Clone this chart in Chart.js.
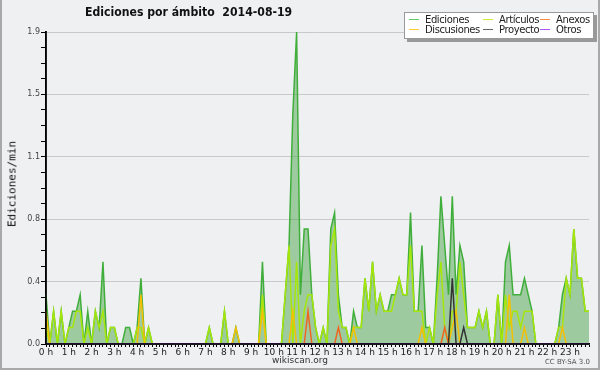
<!DOCTYPE html>
<html>
<head>
<meta charset="utf-8">
<script src="https://cdn.jsdelivr.net/npm/chart.js@4.4.1/dist/chart.umd.min.js"></script>
<style>
  body { margin: 0; background: #fff; }
  #wrap { position: relative; width: 600px; height: 370px; background: #eff0f2; overflow: hidden; font-family: "DejaVu Sans", sans-serif; }
  #chart { position: absolute; left: 0; top: 0; }
  #frame { position: absolute; left: 0; top: 0; width: 600px; height: 370px; box-sizing: border-box; border: 2px solid #a9a9a9; border-top: none; pointer-events: none; }
  #title { position: absolute; left: 85px; top: 4px; font-weight: bold; font-size: 13px; color: #111; white-space: pre; transform: scaleX(0.84); transform-origin: left top; }
  #ylabel { position: absolute; left: 12px; top: 184px; transform: translate(-50%, -50%) rotate(-90deg); font-family: "DejaVu Sans Mono", monospace; font-size: 11px; color: #111; white-space: nowrap; }
  #legend { position: absolute; left: 404px; top: 12px; width: 188px; height: 25px; background: #fff; border: 1px solid #999; box-shadow: 3px 3px 0 #999; }
  .item { position: absolute; font-size: 10px; letter-spacing: -0.4px; color: #222; white-space: nowrap; line-height: 10px; }
  .item i { display: inline-block; width: 10px; height: 1px; vertical-align: middle; margin-right: 6px; position: relative; top: -1px; }
  #site { position: absolute; left: 0; width: 600px; top: 355px; text-align: center; font-size: 9px; color: #333; }
  #lic { position: absolute; right: 10px; top: 358px; font-size: 7px; color: #555; }
</style>
</head>
<body>
<div id="wrap">
  <canvas id="chart" width="600" height="370"></canvas>
  <div id="title">Ediciones por ámbito  2014-08-19</div>
  <div id="ylabel">Ediciones/min</div>
  <div id="legend"></div>
  <div id="site">wikiscan.org</div>
  <div id="lic">CC BY-SA 3.0</div>
  <div id="frame"></div>
</div>
<script>
// one slot every 10 minutes, 0:00 .. 23:50
const slots = [];
for (let h = 0; h < 24; h++) {
  for (let m = 0; m < 60; m += 10) slots.push(h + ":" + String(m).padStart(2, "0"));
}

const hourLabels = ["0 h", "1 h", "2 h", "3 h", "4 h", "5 h", "6 h", "7 h", "8 h", "9 h", "10 h", "11 h",
  "12 h", "13 h", "14 h", "15 h", "16 h", "17 h", "18 h", "19 h", "20 h", "21 h", "22 h", "23 h"];

const yTicks = [0, 0.095, 0.19, 0.285, 0.38, 0.475, 0.57, 0.665, 0.76, 0.855, 0.95,
  1.045, 1.14, 1.235, 1.33, 1.425, 1.52, 1.615, 1.71, 1.805, 1.9];

// edits per minute, one row per hour
const ediciones = [
  0.3, 0, 0.2, 0, 0.2, 0,
  0.1, 0.2, 0.2, 0.3, 0, 0.2,
  0, 0.2, 0.1, 0.5, 0, 0.1,
  0.1, 0, 0, 0.1, 0.1, 0,
  0.1, 0.4, 0, 0.1, 0, 0,
  0, 0, 0, 0, 0, 0,
  0, 0, 0, 0, 0, 0,
  0, 0.1, 0, 0, 0, 0.2,
  0, 0, 0.1, 0, 0, 0,
  0, 0, 0, 0.5, 0, 0,
  0, 0, 0, 0.3, 0.6, 1.4,
  1.9, 0.3, 0.7, 0.7, 0.3, 0.1,
  0, 0.1, 0, 0.7, 0.8, 0.3,
  0.1, 0.1, 0, 0.2, 0.1, 0.1,
  0.4, 0.2, 0.5, 0.2, 0.3, 0.2,
  0.2, 0.3, 0.3, 0.4, 0.3, 0.3,
  0.8, 0.2, 0.2, 0.6, 0.1, 0.1,
  0, 0.4, 0.9, 0.6, 0.3, 0.9,
  0.3, 0.6, 0.5, 0.1, 0.1, 0.1,
  0.2, 0.1, 0.2, 0, 0, 0.3,
  0, 0.5, 0.6, 0.3, 0.3, 0.3,
  0.4, 0.3, 0.2, 0, 0, 0,
  0, 0, 0, 0.1, 0.3, 0.4,
  0.3, 0.7, 0.4, 0.4, 0.2, 0.2
];

const articulos = [
  0.1, 0, 0.2, 0, 0.2, 0,
  0.1, 0.1, 0.2, 0.2, 0, 0.1,
  0, 0.2, 0.1, 0.2, 0, 0.1,
  0.1, 0, 0, 0, 0, 0,
  0.1, 0.1, 0, 0.1, 0, 0,
  0, 0, 0, 0, 0, 0,
  0, 0, 0, 0, 0, 0,
  0, 0.1, 0, 0, 0, 0.2,
  0, 0, 0, 0, 0, 0,
  0, 0, 0, 0.3, 0, 0,
  0, 0, 0, 0.3, 0.6, 0,
  0.5, 0, 0.2, 0.3, 0.3, 0.1,
  0, 0.1, 0, 0.6, 0.7, 0.2,
  0.1, 0.1, 0, 0.1, 0.1, 0.1,
  0.4, 0.2, 0.5, 0.2, 0.3, 0.2,
  0.2, 0.2, 0.3, 0.4, 0.3, 0.3,
  0.6, 0.2, 0.2, 0.2, 0, 0.1,
  0, 0.3, 0.5, 0.1, 0, 0.2,
  0.2, 0.5, 0.3, 0.1, 0.1, 0.1,
  0.2, 0.1, 0.2, 0, 0, 0.3,
  0, 0.3, 0.1, 0.2, 0.2, 0.1,
  0.2, 0.2, 0.2, 0, 0, 0,
  0, 0, 0, 0.1, 0.1, 0.4,
  0.3, 0.7, 0.4, 0.4, 0.2, 0.2
];

const anexos = [
  0, 0, 0, 0, 0, 0,  0, 0, 0, 0, 0, 0,  0, 0, 0, 0, 0, 0,  0, 0, 0, 0, 0, 0,
  0, 0, 0, 0, 0, 0,  0, 0, 0, 0, 0, 0,  0, 0, 0, 0, 0, 0,  0, 0, 0, 0, 0, 0,
  0, 0, 0, 0, 0, 0,  0, 0, 0, 0, 0, 0,  0, 0, 0, 0, 0, 0,  0, 0, 0, 0.2, 0, 0,
  0, 0, 0, 0, 0, 0.1,  0, 0, 0, 0, 0, 0,  0, 0, 0, 0, 0, 0,  0, 0, 0, 0, 0, 0,
  0, 0, 0, 0, 0, 0,  0, 0, 0, 0.1, 0, 0,  0, 0, 0, 0, 0, 0,  0, 0, 0, 0, 0, 0,
  0, 0, 0, 0, 0, 0,  0, 0, 0, 0, 0, 0,  0, 0, 0, 0, 0, 0,  0, 0, 0, 0, 0, 0
];

const discusiones = [
  0.2, 0, 0, 0, 0, 0,  0, 0, 0, 0, 0, 0,  0, 0, 0, 0, 0, 0,  0, 0, 0, 0, 0, 0,
  0, 0.3, 0, 0, 0, 0,  0, 0, 0, 0, 0, 0,  0, 0, 0, 0, 0, 0,  0, 0, 0, 0, 0, 0,
  0, 0, 0.1, 0, 0, 0,  0, 0, 0, 0.2, 0, 0,  0, 0, 0, 0, 0, 0.2,  0, 0, 0, 0, 0, 0,
  0, 0, 0, 0, 0, 0,  0, 0, 0, 0.1, 0, 0,  0, 0, 0, 0, 0, 0,  0, 0, 0, 0, 0, 0,
  0, 0, 0, 0.1, 0, 0,  0, 0, 0, 0, 0, 0.1,  0.2, 0, 0, 0, 0, 0,  0, 0, 0, 0, 0, 0,
  0, 0, 0.3, 0, 0, 0,  0.1, 0, 0, 0, 0, 0,  0, 0, 0, 0, 0.1, 0,  0, 0, 0, 0, 0, 0
];

const proyecto = [
  0, 0, 0, 0, 0, 0,  0, 0, 0, 0, 0, 0,  0, 0, 0, 0, 0, 0,  0, 0, 0, 0, 0, 0,
  0, 0, 0, 0, 0, 0,  0, 0, 0, 0, 0, 0,  0, 0, 0, 0, 0, 0,  0, 0, 0, 0, 0, 0,
  0, 0, 0, 0, 0, 0,  0, 0, 0, 0, 0, 0,  0, 0, 0, 0, 0, 0,  0, 0, 0, 0, 0, 0,
  0, 0, 0, 0, 0, 0,  0, 0, 0, 0, 0, 0,  0, 0, 0, 0, 0, 0,  0, 0, 0, 0, 0, 0,
  0, 0, 0, 0, 0, 0,  0, 0, 0, 0, 0, 0.4,  0, 0, 0.1, 0, 0, 0,  0, 0, 0, 0, 0, 0,
  0, 0, 0, 0, 0, 0,  0, 0, 0, 0, 0, 0,  0, 0, 0, 0, 0, 0,  0, 0, 0, 0, 0, 0
];

const otros = slots.map(() => 0);

const series = [
  { label: "Ediciones", data: ediciones, color: "#3fae3a", key: "#66cc66", order: 10 },
  { label: "Artículos", data: articulos, color: "#a6e60a", key: "#ccee33", order: 5 },
  { label: "Anexos", data: anexos, color: "#ee6622", key: "#ff8844", order: 2 },
  { label: "Discusiones", data: discusiones, color: "#f5c000", key: "#ffcc33", order: 3 },
  { label: "Proyecto", data: proyecto, color: "#333333", key: "#666666", order: 1 },
  { label: "Otros", data: otros, color: "#9933ff", key: "#aa55ff", order: 0 }
];

// legend, 3 columns x 2 rows
const legend = document.getElementById("legend");
const colX = [4, 78, 135];
series.forEach((s, i) => {
  const el = document.createElement("div");
  el.className = "item";
  el.style.left = colX[i % 3] + "px";
  el.style.top = (i < 3 ? 2 : 12) + "px";
  el.innerHTML = `<i style="background:${s.key}"></i>${s.label}`;
  legend.appendChild(el);
});

// redraw the axis lines above the series
const axisOnTop = {
  id: "axisOnTop",
  afterDatasetsDraw(chart) {
    const { ctx, chartArea: a } = chart;
    ctx.save();
    ctx.strokeStyle = "#000";
    ctx.lineWidth = 1.5;
    ctx.beginPath();
    ctx.moveTo(a.left, a.top - 1);
    ctx.lineTo(a.left, a.bottom);
    ctx.lineTo(a.right, a.bottom);
    ctx.stroke();
    ctx.restore();
  }
};

new Chart(document.getElementById("chart"), {
  type: "line",
  data: {
    labels: slots,
    datasets: series.map((s, i) => ({
      label: s.label,
      data: s.data,
      borderColor: s.color,
      borderWidth: 1.5,
      backgroundColor: i === 0 ? "rgba(60,160,60,0.46)" : "transparent",
      fill: i === 0 ? "origin" : false,
      order: s.order,
      pointRadius: 0,
      tension: 0
    }))
  },
  options: {
    responsive: false,
    animation: false,
    layout: { padding: { left: 0, top: 32, right: 11, bottom: 0 } },
    plugins: { legend: { display: false }, title: { display: false }, tooltip: { enabled: false } },
    scales: {
      x: {
        type: "category",
        offset: false,
        grid: { drawOnChartArea: false, drawTicks: true, tickLength: 3, tickColor: "#000", tickWidth: 1 },
        border: { display: true, color: "#000", width: 1.5 },
        ticks: {
          autoSkip: false,
          maxRotation: 0,
          minRotation: 0,
          padding: 0,
          color: "#222",
          font: { family: "DejaVu Sans", size: 9 },
          callback: (v, i) => (i % 6 === 0 ? hourLabels[i / 6] : "")
        },
        afterFit: (s) => { s.height = 26; }
      },
      y: {
        min: 0,
        max: 1.9,
        afterBuildTicks: (s) => { s.ticks = yTicks.map((v) => ({ value: v })); },
        grid: {
          color: (c) => (c.index % 4 === 0 ? "#c9c9c9" : "rgba(0,0,0,0)"),
          tickColor: "#000",
          tickLength: 5,
          drawTicks: true
        },
        border: { display: true, color: "#000", width: 1.5 },
        ticks: {
          padding: 1,
          color: "#444",
          font: { family: "DejaVu Sans", size: 8 },
          callback: (v, i) => (i % 4 === 0 ? v.toFixed(1) : "")
        },
        afterFit: (s) => { s.width = 46; }
      }
    }
  },
  plugins: [axisOnTop]
});
</script>
</body>
</html>
